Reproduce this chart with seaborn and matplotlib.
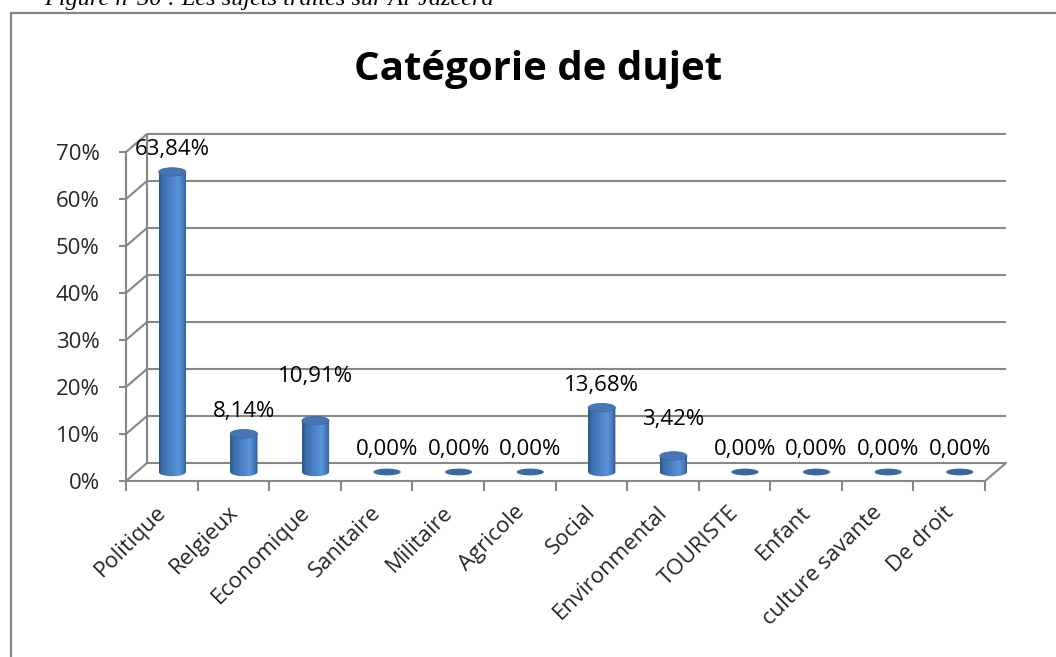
import numpy as np
import matplotlib
matplotlib.use("Agg")
import matplotlib.pyplot as plt
import matplotlib.transforms as mtransforms
from matplotlib.patches import Ellipse, PathPatch
from matplotlib.path import Path
from matplotlib.lines import Line2D
from matplotlib.colors import LinearSegmentedColormap
import seaborn as sns

# ---- data -------------------------------------------------------------
categories = ["Politique", "Relgieux", "Economique", "Sanitaire", "Militaire",
              "Agricole", "Social", "Environmental", "TOURISTE", "Enfant",
              "culture savante", "De droit"]
shares = [63.84, 8.14, 10.91, 0.00, 0.00, 0.00, 13.68, 3.42, 0.00, 0.00, 0.00, 0.00]
y_ticks = [0, 10, 20, 30, 40, 50, 60, 70]
title = "Catégorie de dujet"
caption = "Figure n°30 : Les sujets traités sur Al-Jazeera"

# ---- canvas -----------------------------------------------------------
W, H, DPI = 1056, 657, 100
sns.set_theme(style="white")
plt.rcParams["font.family"] = ["Open Sans", "DejaVu Sans"]

fig = plt.figure(figsize=(W / DPI, H / DPI), dpi=DPI)
fig.patch.set_facecolor("white")

# front plane of the 3-D box (pixel edges)
px0, px1, py_bot, py_top = 126, 985, 481, 152
ax = fig.add_axes([px0 / W, 1 - py_bot / H, (px1 - px0) / W, (py_bot - py_top) / H])
n = len(categories)
XMIN, XMAX, YMIN, YMAX = -0.5, n - 0.5, 0, 70

# depth of the box expressed in data units (21 px right, 18 px up)
ddx = 21 * (XMAX - XMIN) / (px1 - px0)
ddy = 18 * (YMAX - YMIN) / (py_bot - py_top)

GRID = "#878787"
GLW = 1.5
FS = 16

# ---- bars through seaborn ---------------------------------------------
bar_w = 0.38
sns.barplot(x=categories, y=shares, color="#4a7ebf", width=bar_w, ax=ax,
            saturation=1, linewidth=0, zorder=3)

# ---- walls and floor --------------------------------------------------
for t in y_ticks:
    # back wall gridline
    ax.plot([XMIN + ddx, XMAX + ddx], [t + ddy, t + ddy], color=GRID, lw=GLW,
            clip_on=False, zorder=1, solid_capstyle="butt")
    # side wall diagonal
    ax.plot([XMIN, XMIN + ddx], [t, t + ddy], color=GRID, lw=GLW,
            clip_on=False, zorder=1)
# back-left edge
ax.plot([XMIN + ddx, XMIN + ddx], [ddy, YMAX + ddy], color=GRID, lw=GLW,
        clip_on=False, zorder=1)
# right floor edge
ax.plot([XMAX, XMAX + ddx], [0, ddy], color=GRID, lw=GLW, clip_on=False, zorder=1)

# ---- cylinder look ----------------------------------------------------
body_cmap = LinearSegmentedColormap.from_list(
    "cyl", [(0.0, "#2a5487"), (0.12, "#3b6dab"), (0.45, "#4c82c5"),
            (0.70, "#5b94d9"), (0.88, "#4679b9"), (1.0, "#2b568a")])
cap_h = 1.8      # ellipse height in data units
for p, v in zip(ax.patches, shares):
    x_left = p.get_x() + ddx / 2
    w = p.get_width()
    xc = x_left + w / 2
    base = ddy / 2
    p.set_x(x_left)
    p.set_y(base)
    if v > 0:
        t = np.linspace(np.pi, 2 * np.pi, 40)
        bx = xc + w / 2 * np.cos(t)
        by = base + cap_h / 2 * np.sin(t)
        verts = ([(x_left, base + v)] + list(zip(bx, by)) +
                 [(x_left + w, base + v), (x_left, base + v)])
        codes = [Path.MOVETO] + [Path.LINETO] * (len(verts) - 2) + [Path.CLOSEPOLY]
        clip = PathPatch(Path(verts, codes), transform=ax.transData,
                         facecolor="none", edgecolor="none")
        grad = np.linspace(0, 1, 64).reshape(1, -1)
        im = ax.imshow(grad, cmap=body_cmap, aspect="auto", interpolation="bilinear",
                       extent=[x_left, x_left + w, base - cap_h, base + v],
                       zorder=4)
        im.set_clip_path(clip)
        ax.add_patch(Ellipse((xc, base + v), w, cap_h, facecolor="#4676b4",
                             edgecolor="#3d6aa3", lw=0.6, zorder=5))
    else:
        ax.add_patch(Ellipse((xc, base), w, cap_h * 0.8, facecolor="#3a68a1",
                             edgecolor="none", zorder=5))

# ---- value labels -----------------------------------------------------
extra_lift = {"Economique": 22, "Environmental": 14}
for i, (c, v) in enumerate(zip(categories, shares)):
    lift = 22 + extra_lift.get(c, 0)
    ax.annotate(f"{v:.2f}".replace(".", ",") + "%",
                xy=(i + ddx / 2, v + ddy / 2), xytext=(0, lift * 72 / DPI),
                textcoords="offset points", ha="center", va="center",
                fontsize=FS, color="black", zorder=6, annotation_clip=False)

# ---- axes -------------------------------------------------------------
ax.set_xlim(XMIN, XMAX)
ax.set_ylim(YMIN, YMAX)
ax.set_facecolor("none")
for s in ["top", "right"]:
    ax.spines[s].set_visible(False)
for s in ["left", "bottom"]:
    ax.spines[s].set_color(GRID)
    ax.spines[s].set_linewidth(GLW)
    ax.spines[s].set_zorder(2)

ax.set_yticks(y_ticks)
ax.set_yticklabels([f"{t}%" for t in y_ticks], fontsize=FS)
ax.set_xticks(range(n))
ax.set_xticklabels(categories, rotation=45, ha="right", rotation_mode="anchor",
                   fontsize=FS)
ax.set_xticks(np.arange(n + 1) - 0.5, minor=True)
ax.tick_params(axis="y", which="major", left=True, length=5, width=GLW,
               color=GRID, pad=14)
ax.tick_params(axis="x", which="major", bottom=False, length=0, pad=15)
ax.tick_params(axis="x", which="minor", bottom=True, length=7, width=GLW,
               color=GRID)
# nudge the slanted category names slightly to the left
nudge = mtransforms.ScaledTranslation(-6 / DPI, 0, fig.dpi_scale_trans)
for lbl in ax.get_xticklabels():
    lbl.set_transform(lbl.get_transform() + nudge)
ax.grid(False)
ax.set_xlabel("")
ax.set_ylabel("")

# ---- titles and frame -------------------------------------------------
fig.text(538 / W, 1 - 80 / H, title, ha="center", va="baseline",
         fontsize=29, fontweight="bold", color="black")
fig.text(44 / W, 1 - 5 / H, caption, ha="left", va="baseline",
         fontsize=17.5, style="italic", family=["Liberation Serif"], color="black")

frame_c = "#878787"
fig.add_artist(Line2D([11 / W, 11 / W], [0, 1 - 13 / H], transform=fig.transFigure,
                      color=frame_c, lw=1.6))
fig.add_artist(Line2D([11 / W, 1], [1 - 13 / H, 1 - 13 / H], transform=fig.transFigure,
                      color=frame_c, lw=1.6))

fig.savefig("out.png", dpi=DPI)
